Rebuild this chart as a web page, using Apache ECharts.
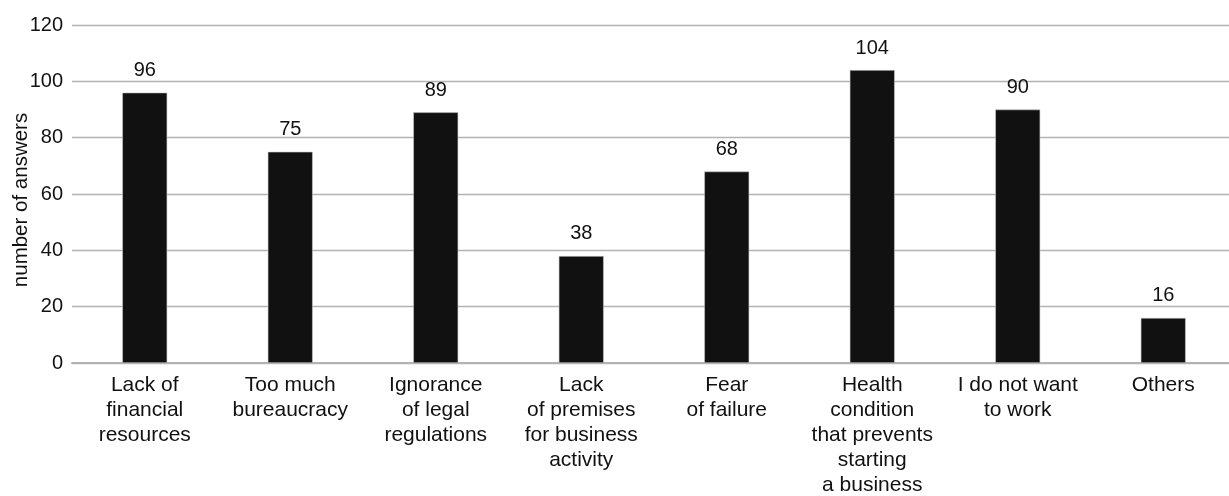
<!DOCTYPE html>
<html><head><meta charset="utf-8">
<script src="https://cdn.jsdelivr.net/npm/echarts@6/dist/echarts.min.js"></script>
<style>html,body{margin:0;padding:0;background:#fff}#c{width:1229px;height:496px}</style>
</head><body><div id="c"></div>
<script>
var categories = ["Lack of\nfinancial\nresources","Too much\nbureaucracy","Ignorance\nof legal\nregulations","Lack\nof premises\nfor business\nactivity","Fear\nof failure","Health\ncondition\nthat prevents\nstarting\na business","I do not want\nto work","Others"];
var values = [96,75,89,38,68,104,90,16];
var yTicks = {min:0,max:120,interval:20};
var chart = echarts.init(document.getElementById('c'));
var font = 'Liberation Sans, Arial, sans-serif';
chart.setOption({
  animation:false,
  grid:{left:72,right:-7,top:25,bottom:133,containLabel:false,outerBoundsMode:'none'},
  xAxis:{type:'category',data:categories,
    axisLine:{lineStyle:{color:'#b3b3b3',width:2}},
    axisTick:{show:false},
    axisLabel:{color:'#111',fontSize:21,fontFamily:font,lineHeight:25,margin:10,interval:0}},
  yAxis:{type:'value',min:yTicks.min,max:yTicks.max,interval:yTicks.interval,
    name:'number of answers',nameLocation:'middle',nameGap:40,nameRotate:90,nameMoveOverlap:false,
    nameTextStyle:{color:'#111',fontSize:20.5,fontFamily:font,padding:[0,12,0,0]},
    axisLine:{show:false},axisTick:{show:false},
    axisLabel:{color:'#111',fontSize:20,fontFamily:font,margin:9},
    splitLine:{lineStyle:{color:'#b3b3b3',width:1.3}}},
  series:[{type:'bar',data:values,barWidth:45,
    itemStyle:{color:'#111111',borderColor:'#c8c8c8',borderWidth:0.6},
    label:{show:true,position:'top',distance:12,color:'#111',fontSize:20,fontFamily:font}}]
});
</script></body></html>
